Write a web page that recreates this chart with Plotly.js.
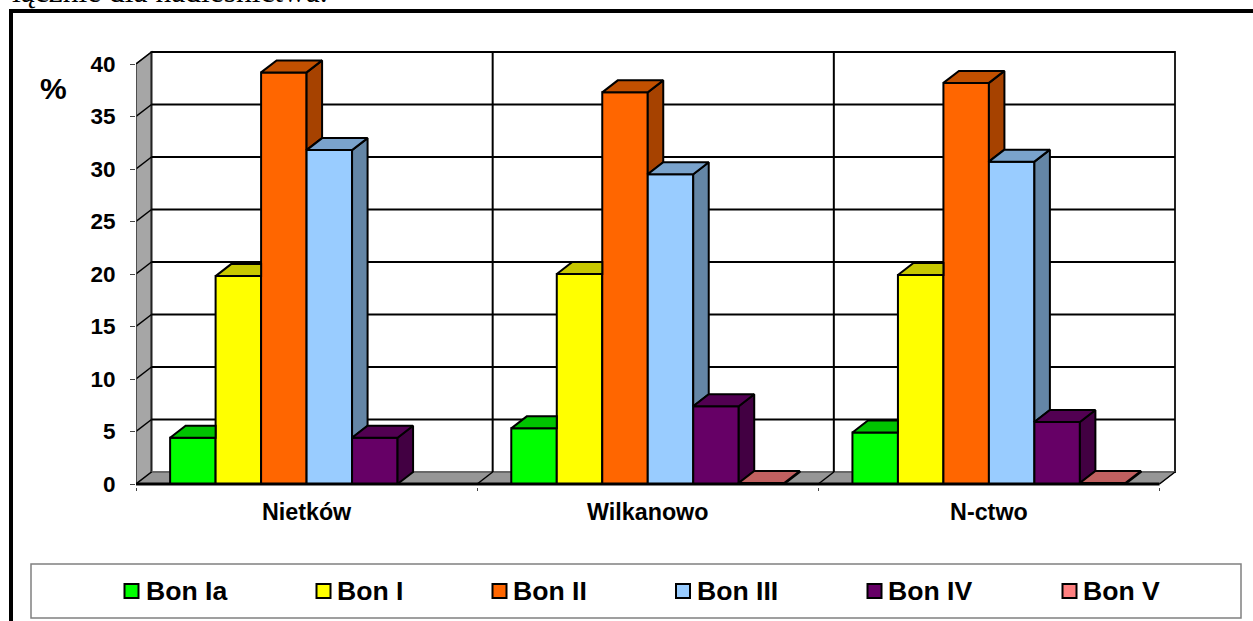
<!DOCTYPE html>
<html><head><meta charset="utf-8">
<script src="https://cdn.plot.ly/plotly-3.0.1.min.js"></script>
<style>html,body{margin:0;padding:0;background:#fff;overflow:hidden}</style>
</head><body><div id="chart" style="width:1253px;height:621px"></div>
<script>
// ---- data ----
const categories = ['Nietków', 'Wilkanowo', 'N-ctwo'];
const bonIa  = [4.4, 5.3, 4.9];
const bonI   = [19.8, 20.0, 19.9];
const bonII  = [39.2, 37.3, 38.2];
const bonIII = [31.8, 29.5, 30.7];
const bonIV  = [4.4, 7.4, 5.9];
const bonV   = [null, 0.1, 0.1];
const seriesNames = ['Bon Ia', 'Bon I', 'Bon II', 'Bon III', 'Bon IV', 'Bon V'];
const frontColors = ['#00FF00', '#FFFF00', '#FF6600', '#99CCFF', '#660066', '#FF8080'];
const topColors   = ['#00C400', '#C8C800', '#C25000', '#7AA3CC', '#520052', '#C06060'];
const sideColors  = ['#00A000', '#A6A600', '#A64200', '#6486A6', '#420042', '#A65353'];
const yTicks = [0, 5, 10, 15, 20, 25, 30, 35, 40];

// ---- geometry ----
const allSeries = [bonIa, bonI, bonII, bonIII, bonIV, bonV];
const pxPerCat = 341, pxPerUnit = 10.5;
const dx = 15.5 / pxPerCat, dy = 12 / pxPerUnit;
const gap = 0.1, barW = (1 - 2 * gap) / allSeries.length;
const padR = 4 / pxPerCat, padT = 4 / pxPerUnit, padB = 3 / pxPerUnit;

const traces = [], shapes = [];
// walls
shapes.push({type:'path', layer:'below', xref:'x', yref:'y',
  path:`M0,0 L0,40 L${dx},${40+dy} L${dx},${dy} Z`, fillcolor:'#A6A6A6', line:{color:'#606060',width:1.5}});
shapes.push({type:'path', layer:'below', xref:'x', yref:'y',
  path:`M0,0 L3,0 L${3+dx},${dy} L${dx},${dy} Z`, fillcolor:'#969696', line:{color:'#707070',width:1}});
shapes.push({type:'path', layer:'below', xref:'x', yref:'y',
  path:`M${dx},${dy} L${3+dx},${dy} L${3+dx},${40+dy} L${dx},${40+dy} Z`, fillcolor:'#FFFFFF', line:{color:'#222222',width:2}});
shapes.push({type:'line', layer:'below', xref:'x', yref:'y', x0:dx, x1:3+dx, y0:dy, y1:dy, line:{color:'#808080',width:1.5}});
// grid on the back wall + diagonals on the side wall
yTicks.filter(v => v > 0).forEach(v => {
  shapes.push({type:'line', layer:'below', xref:'x', yref:'y', x0:dx, x1:3+dx, y0:v+dy, y1:v+dy,
    line:{color: '#000000', width:2}});
  shapes.push({type:'line', layer:'below', xref:'x', yref:'y', x0:0, x1:dx, y0:v, y1:v+dy, line:{color:'#000',width:1.5}});
});
// category dividers
[1, 2].forEach(c => {
  shapes.push({type:'line', layer:'below', xref:'x', yref:'y', x0:c+dx, x1:c+dx, y0:dy, y1:40+dy, line:{color:'#000',width:2}});
});
[0, 1, 2, 3].forEach(c => {
  shapes.push({type:'line', layer:'below', xref:'x', yref:'y', x0:c, x1:c+dx, y0:0, y1:dy, line:{color:'#000',width:1.5}});
});
// axis lines
shapes.push({type:'line', layer:'below', xref:'x', yref:'y', x0:0, x1:0, y0:0, y1:40, line:{color:'#444',width:1.5}});
shapes.push({type:'line', layer:'above', xref:'x', yref:'y', x0:0, x1:3, y0:0, y1:0, line:{color:'#000',width:3}});

// front faces
allSeries.forEach((vals, s) => {
  traces.push({type:'bar', name:seriesNames[s],
    x: categories.map((_, c) => c + gap + (s + 0.5) * barW),
    y: vals, width: barW,
    marker:{color:frontColors[s], line:{color:'#000', width:2}},
    hoverinfo:'name+y', cliponaxis:false});
});
// depth faces, clipped by the next bar standing in front of them
const face = (xs, ys, color) => traces.push({type:'scatter', mode:'lines', x:xs, y:ys, fill:'toself',
  fillcolor:color, line:{color:'#000', width:2}, showlegend:false, hoverinfo:'skip', cliponaxis:false});
categories.forEach((_, c) => {
  allSeries.forEach((vals, s) => {
    const v = vals[c];
    if (v === null) return;
    const x0 = c + gap + s * barW, x1 = x0 + barW;
    const next = s + 1 < allSeries.length ? (allSeries[s + 1][c] || 0) : 0;
    if (next < v) {
      face([x1, x1 + dx, x1 + dx, x1, x1], [v, v + dy, next + dy, next, v], sideColors[s]);
      face([x0, x1, x1 + dx, x0 + dx, x0], [v, v, v + dy, v + dy, v], topColors[s]);
    } else {
      face([x0, x1, x1, x0 + dx, x0], [v, v, v + dy, v + dy, v], topColors[s]);
    }
  });
});

// outer frame and legend box
shapes.push({type:'rect', layer:'below', xref:'paper', yref:'paper', xsizemode:'pixel', ysizemode:'pixel',
  xanchor:0, yanchor:1, x0:-125, x1:1200, y0:37, y1:-600, fillcolor:'rgba(0,0,0,0)', line:{color:'#000',width:4}});
shapes.push({type:'rect', layer:'below', xref:'paper', yref:'paper', xsizemode:'pixel', ysizemode:'pixel',
  xanchor:0, yanchor:1, x0:-105, x1:1105, y0:-516, y1:-570, fillcolor:'#FFFFFF', line:{color:'#808080',width:1.5}});

const W = 1039 + 4, H = 432 + 7;   // plot box in pixels
const layout = {
  width:1253, height:621, autosize:false, paper_bgcolor:'#fff', plot_bgcolor:'rgba(0,0,0,0)',
  margin:{l:136, r:74, t:48, b:134, pad:0, autoexpand:false},
  barmode:'overlay', shapes,
  font:{family:'Liberation Sans, Arial, sans-serif', color:'#000'},
  xaxis:{type:'linear', range:[0, 3 + dx + padR], showgrid:false, zeroline:false, showline:false,
    tickmode:'array', tickvals:[0.5, 1.5, 2.5], ticktext:categories, ticks:'', ticklen:0, ticklabelstandoff:9,
    tickfont:{size:23.3, family:'Liberation Sans', weight:'bold'},
    minor:{tickmode:'array', tickvals:[0, 1, 2, 3], ticks:'outside', ticklen:3, tickcolor:'#444', tickwidth:1, showgrid:false}},
  yaxis:{type:'linear', range:[-padB, 40 + dy + padT], showgrid:false, zeroline:false, showline:false,
    tickmode:'array', tickvals:yTicks, ticks:'outside', ticklen:5, tickcolor:'#444', tickwidth:1, ticklabelstandoff:10,
    tickfont:{size:22.5, family:'Liberation Sans', weight:'bold'}},
  showlegend:true,
  legend:{orientation:'h', xref:'container', yref:'container', x:0.09, xanchor:'left', y:1-591/621, yanchor:'middle',
    entrywidth:100, entrywidthmode:'pixels', traceorder:'normal',
    font:{size:26.6, family:'Liberation Sans', weight:'bold', color:'#000'}, bgcolor:'rgba(0,0,0,0)', borderwidth:0},
  annotations:[
    {xref:'paper', yref:'paper', x:(53-136)/W, y:(621-134-88)/H, xanchor:'center', yanchor:'middle', showarrow:false,
     text:'<b>%</b>', font:{size:30, family:'Liberation Sans'}},
    {xref:'paper', yref:'paper', x:(10-136)/W, y:(487+8)/H, xanchor:'left', yanchor:'middle', showarrow:false,
     text:'łącznie dla nadleśnictwa.', font:{size:31.5, family:'Liberation Serif'}}
  ]
};
const swatchX = [131.5, 323.5, 499.5, 683, 874.5, 1069.5];
const labelX  = [146, 337, 513, 697, 888, 1083];
const gd = document.getElementById('chart');
Plotly.newPlot(gd, traces, layout, {displayModeBar:false, staticPlot:true}).then(() => {
  // spread the native legend entries along the frame as in the reference
  const sb = gd.querySelector('.legend .scrollbox');
  if (sb) sb.removeAttribute('clip-path');
  gd.querySelectorAll('.legend .traces').forEach((g, i) => {
    const p = g.querySelector('.legendpoints path');
    p.setAttribute('d', 'M7,7H-7V-7H7Z');
    p.style.strokeWidth = '2px';
    p.style.stroke = '#000';
    const m = (g.getAttribute('transform') || '').match(/translate\(([-\d.]+)[ ,]*([-\d.]*)/);
    const tx = m ? +m[1] : 0, ty = m && m[2] ? +m[2] : 0;
    const r = p.getBoundingClientRect();
    const shift = swatchX[i] - (r.left + r.right) / 2;
    const shiftY = 591 - (r.top + r.bottom) / 2;
    g.setAttribute('transform', `translate(${tx + shift},${ty + shiftY})`);
    const t = g.querySelector('text.legendtext');
    const tr = t.getBoundingClientRect();
    t.setAttribute('x', +t.getAttribute('x') + labelX[i] - tr.left);
    t.setAttribute('y', +t.getAttribute('y') - 1);
  });
});
</script></body></html>
